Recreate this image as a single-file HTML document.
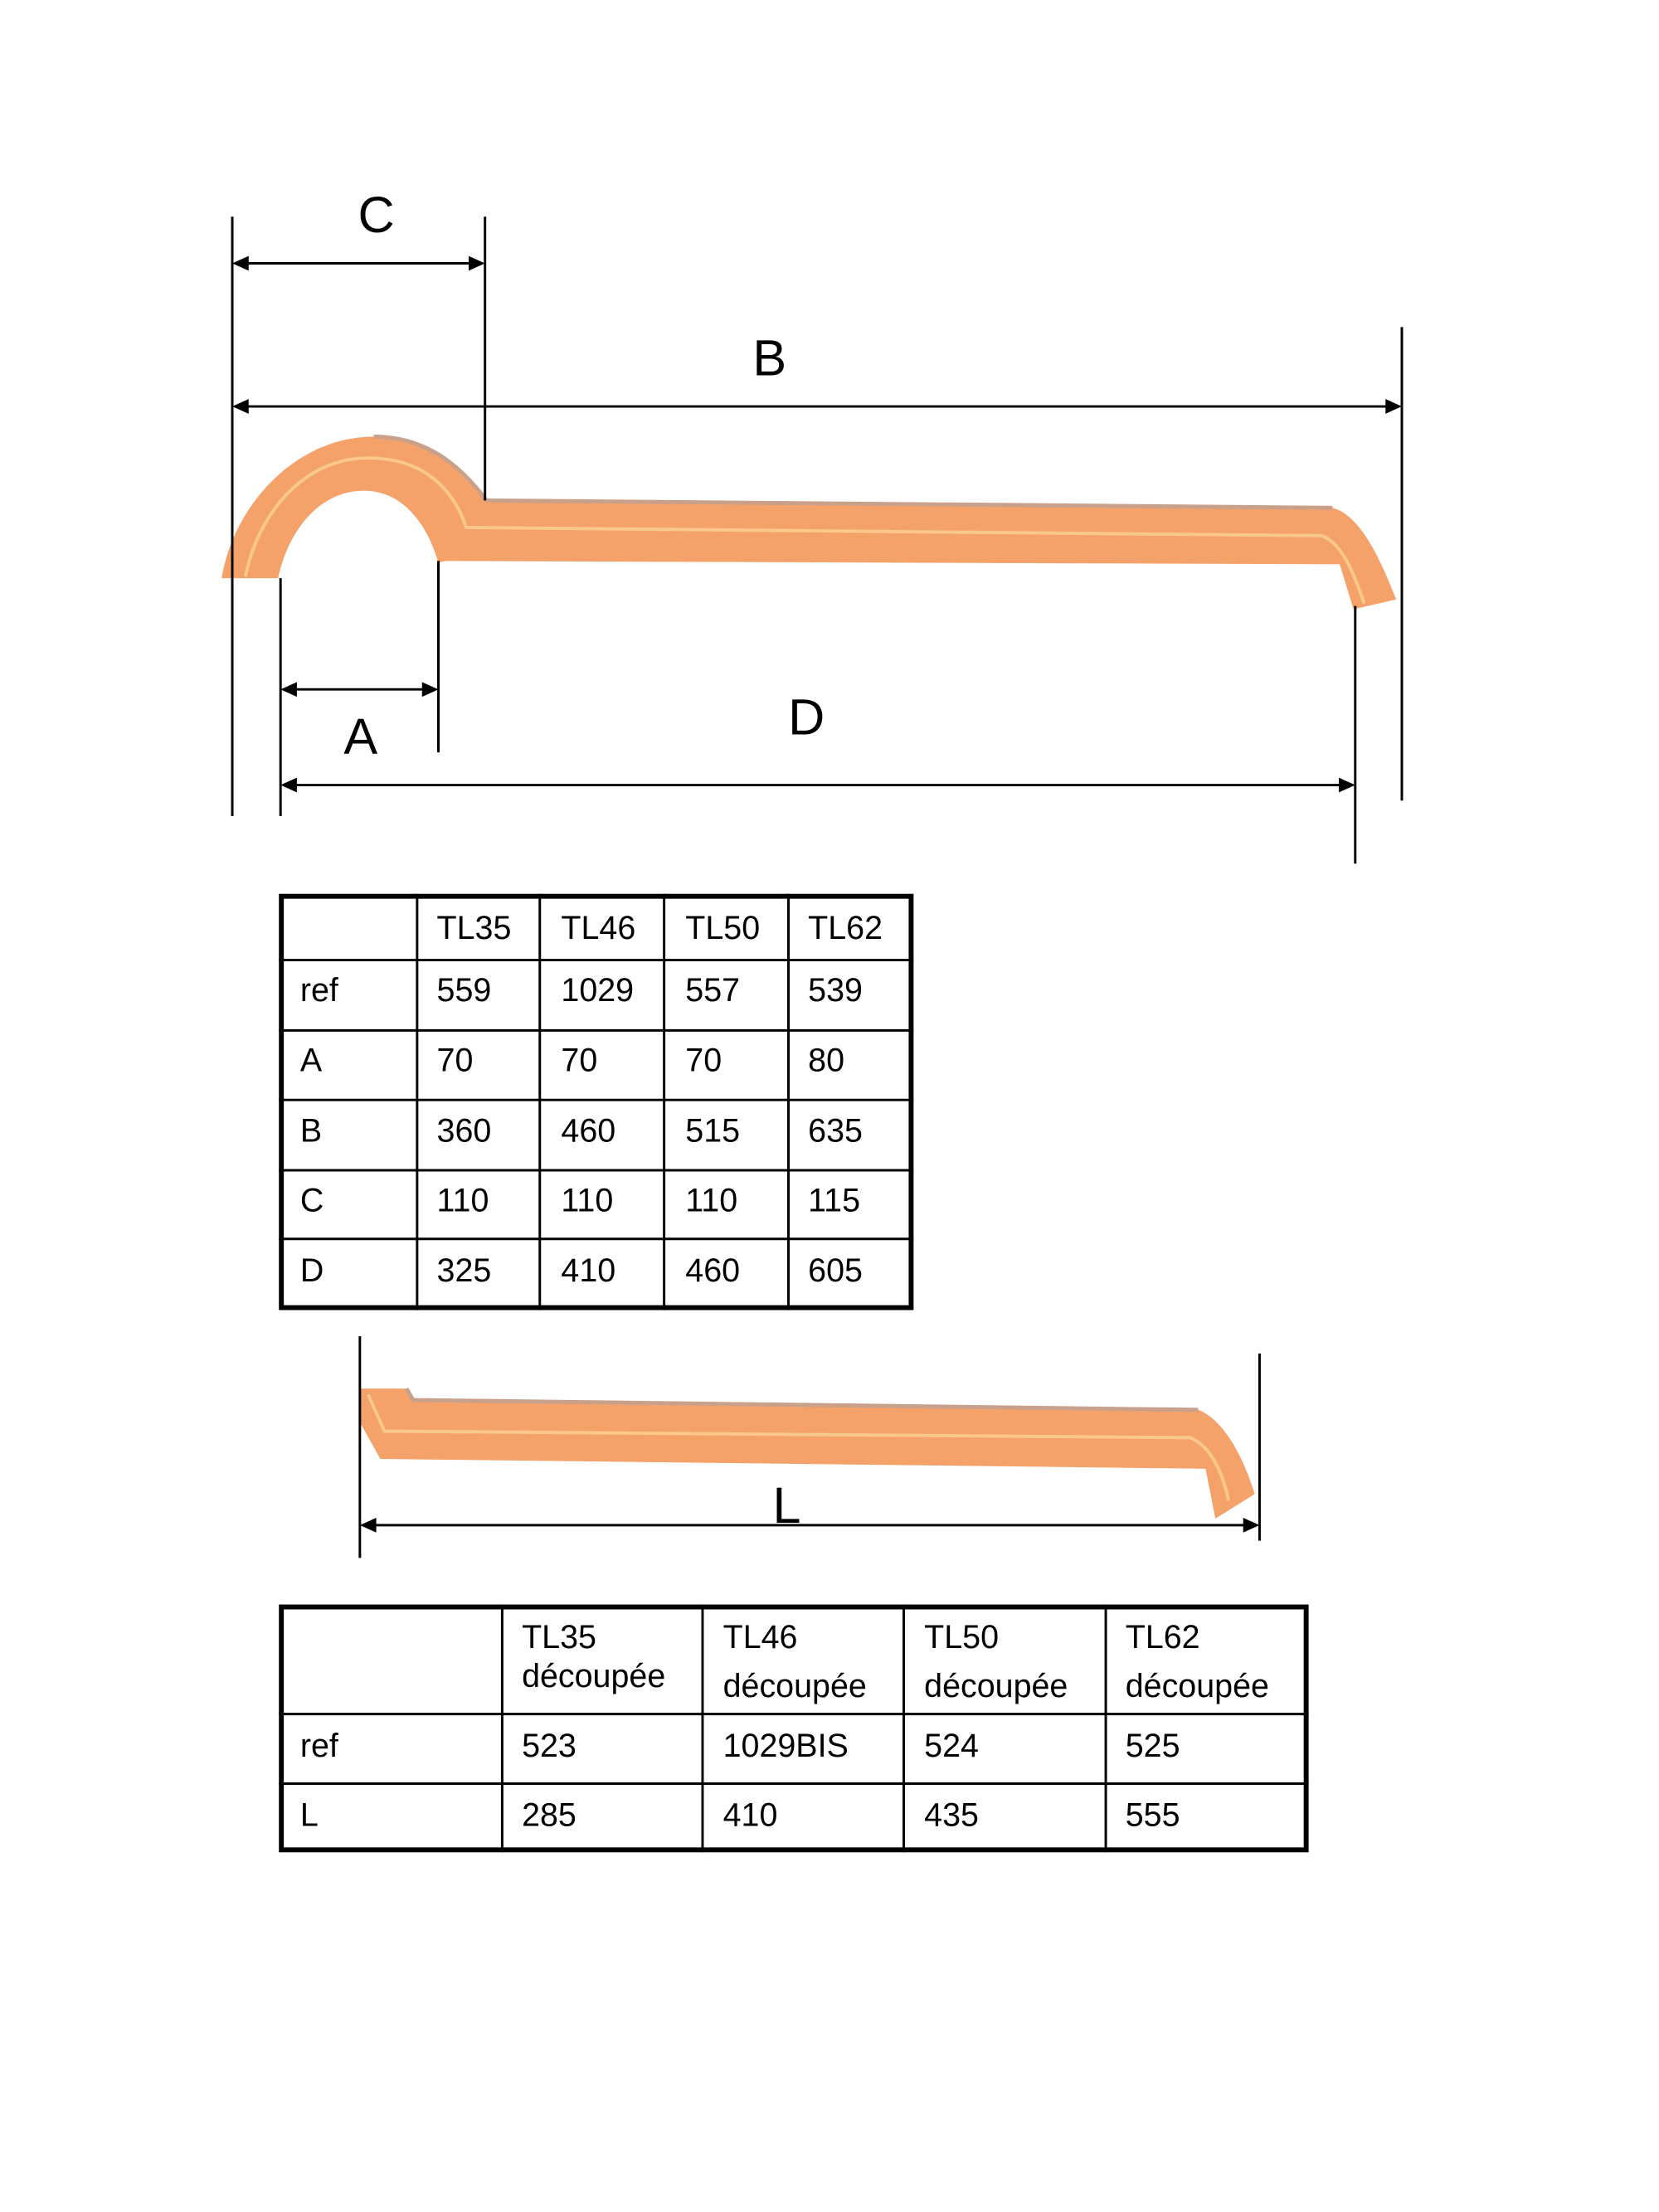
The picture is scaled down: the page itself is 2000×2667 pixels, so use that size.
<!DOCTYPE html>
<html><head><meta charset="utf-8"><style>
body{margin:0;background:#fff;}
svg{display:block}
text{font-family:"Liberation Sans",sans-serif;fill:#000}
</style></head><body>
<svg width="2000" height="2667" viewBox="0 0 2000 2667" xmlns="http://www.w3.org/2000/svg">
<g transform="scale(0.986)">
<!-- tile 1 -->
<path d="M271,707 C285,620 360,534 457,534 C530,534 570,580 595,612 L1629,621 C1665,630 1690,690 1707,733 L1655,745 L1638,690 L545,686 L536,688 C522,640 492,600 445,600 C390,600 352,650 340,707 Z" fill="#f5a26a"/>
<path d="M300,705 C315,630 370,560 450,560 C520,560 555,600 570,645 L1615,655 C1640,662 1655,700 1668,738" fill="none" stroke="#f9c98c" stroke-width="4"/>
<path d="M457,534 C530,534 570,580 595,612 L1629,621" fill="none" stroke="#c9a08a" stroke-width="5"/>
<!-- dimension lines -->
<g stroke="#000" stroke-width="3" fill="none">
<line x1="284" y1="265" x2="284" y2="998"/>
<line x1="593" y1="265" x2="593" y2="612"/>
<line x1="1714" y1="400" x2="1714" y2="979"/>
<line x1="343" y1="707" x2="343" y2="998"/>
<line x1="536" y1="686" x2="536" y2="920"/>
<line x1="1657" y1="741" x2="1657" y2="1056"/>
<line x1="300" y1="322" x2="577" y2="322"/>
<line x1="300" y1="497" x2="1698" y2="497"/>
<line x1="359" y1="843" x2="520" y2="843"/>
<line x1="359" y1="960" x2="1641" y2="960"/>
</g>
<g fill="#000">
<polygon points="284,322 304,313 304,331"/><polygon points="593,322 573,313 573,331"/>
<polygon points="284,497 304,488 304,506"/><polygon points="1714,497 1694,488 1694,506"/>
<polygon points="343,843 363,834 363,852"/><polygon points="536,843 516,834 516,852"/>
<polygon points="343,960 363,951 363,969"/><polygon points="1657,960 1637,951 1637,969"/>
</g>
<g font-size="62" text-anchor="middle">
<text x="460" y="284">C</text>
<text x="941" y="459">B</text>
<text x="441" y="922">A</text>
<text x="986" y="898">D</text>
</g>
<!-- table 1 -->
<g stroke="#000" fill="none">
<rect x="344" y="1096" width="770" height="503" stroke-width="6"/>
<g stroke-width="3">
<line x1="510" y1="1093" x2="510" y2="1602"/><line x1="660" y1="1093" x2="660" y2="1602"/>
<line x1="812" y1="1093" x2="812" y2="1602"/><line x1="964" y1="1093" x2="964" y2="1602"/>
<line x1="341" y1="1174" x2="1117" y2="1174"/><line x1="341" y1="1260" x2="1117" y2="1260"/>
<line x1="341" y1="1345" x2="1117" y2="1345"/><line x1="341" y1="1431" x2="1117" y2="1431"/>
<line x1="341" y1="1515" x2="1117" y2="1515"/>
</g></g>
<g font-size="40">
<text x="534" y="1148">TL35</text><text x="686" y="1148">TL46</text><text x="838" y="1148">TL50</text><text x="988" y="1148">TL62</text>
<text x="367" y="1224">ref</text><text x="534" y="1224">559</text><text x="686" y="1224">1029</text><text x="838" y="1224">557</text><text x="988" y="1224">539</text>
<text x="367" y="1310">A</text><text x="534" y="1310">70</text><text x="686" y="1310">70</text><text x="838" y="1310">70</text><text x="988" y="1310">80</text>
<text x="367" y="1396">B</text><text x="534" y="1396">360</text><text x="686" y="1396">460</text><text x="838" y="1396">515</text><text x="988" y="1396">635</text>
<text x="367" y="1481">C</text><text x="534" y="1481">110</text><text x="686" y="1481">110</text><text x="838" y="1481">110</text><text x="988" y="1481">115</text>
<text x="367" y="1567">D</text><text x="534" y="1567">325</text><text x="686" y="1567">410</text><text x="838" y="1567">460</text><text x="988" y="1567">605</text>
</g>
<!-- tile 2 -->
<path d="M441,1698 L497,1698 L505,1712 L1465,1724 C1495,1735 1520,1780 1534,1827 L1486,1857 L1474,1796 L465,1784 L441,1741 Z" fill="#f5a26a"/>
<path d="M497,1698 L505,1712 L1465,1724" fill="none" stroke="#c9a08a" stroke-width="5"/>
<path d="M450,1705 L470,1750 L1455,1758 C1480,1768 1495,1800 1502,1835" fill="none" stroke="#f9c98c" stroke-width="4"/>
<g stroke="#000" stroke-width="3">
<line x1="440" y1="1634" x2="440" y2="1905"/>
<line x1="1540" y1="1655" x2="1540" y2="1884"/>
<line x1="456" y1="1865" x2="1524" y2="1865"/>
</g>
<g fill="#000"><polygon points="440,1865 460,1856 460,1874"/><polygon points="1540,1865 1520,1856 1520,1874"/></g>
<text x="962" y="1862" font-size="62" text-anchor="middle">L</text>
<!-- table 2 -->
<g stroke="#000" fill="none">
<rect x="344" y="1965" width="1253" height="297" stroke-width="6"/>
<g stroke-width="3">
<line x1="614" y1="1962" x2="614" y2="2265"/><line x1="859" y1="1962" x2="859" y2="2265"/>
<line x1="1105" y1="1962" x2="1105" y2="2265"/><line x1="1352" y1="1962" x2="1352" y2="2265"/>
<line x1="341" y1="2096" x2="1600" y2="2096"/><line x1="341" y1="2181" x2="1600" y2="2181"/>
</g></g>
<g font-size="40">
<text x="638" y="2015">TL35</text><text x="638" y="2063">découpée</text>
<text x="884" y="2015">TL46</text><text x="884" y="2075">découpée</text>
<text x="1130" y="2015">TL50</text><text x="1130" y="2075">découpée</text>
<text x="1376" y="2015">TL62</text><text x="1376" y="2075">découpée</text>
<text x="367" y="2148">ref</text><text x="638" y="2148">523</text><text x="884" y="2148">1029BIS</text><text x="1130" y="2148">524</text><text x="1376" y="2148">525</text>
<text x="367" y="2233">L</text><text x="638" y="2233">285</text><text x="884" y="2233">410</text><text x="1130" y="2233">435</text><text x="1376" y="2233">555</text>
</g>
</g>
</svg>
</body></html>
